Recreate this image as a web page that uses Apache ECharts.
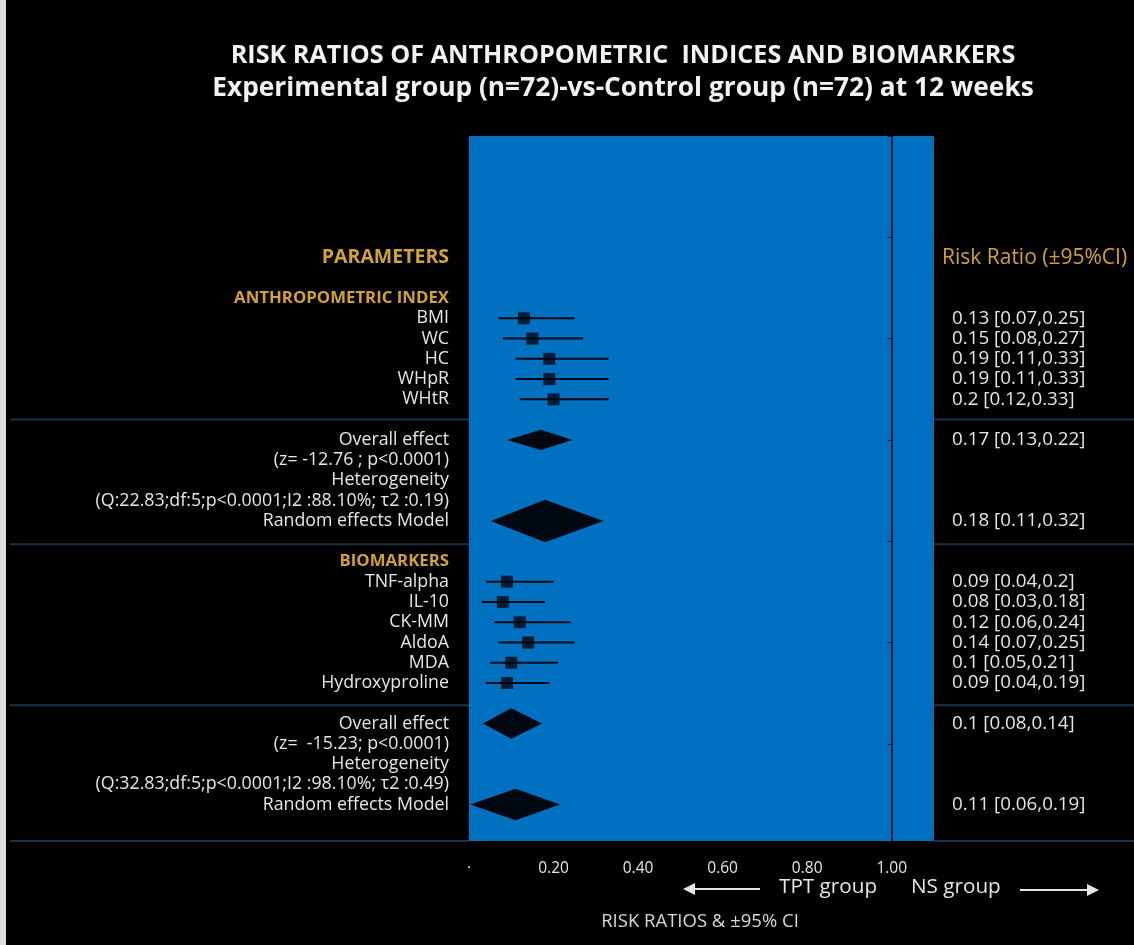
<!DOCTYPE html>
<html><head><meta charset="utf-8">
<script src="https://cdn.jsdelivr.net/npm/echarts@6/dist/echarts.min.js"></script>
<style>html,body{margin:0;padding:0;background:#000;} #c{width:1134px;height:945px;}</style>
</head><body><div id="c"></div>
<script>
// ---------- data ----------
const titleLines = ['RISK RATIOS OF ANTHROPOMETRIC  INDICES AND BIOMARKERS',
                    'Experimental group (n=72)-vs-Control group (n=72) at 12 weeks'];
const studyNames = ['BMI','WC','HC','WHpR','WHtR','TNF-alpha','IL-10','CK-MM','AldoA','MDA','Hydroxyproline'];
const studyRows  = [9,10,11,12,13,22,23,24,25,26,27];
const studyRR    = [0.13,0.15,0.19,0.19,0.2,0.09,0.08,0.12,0.14,0.1,0.09];
const studyLow   = [0.07,0.08,0.11,0.11,0.12,0.04,0.03,0.06,0.07,0.05,0.04];
const studyHigh  = [0.25,0.27,0.33,0.33,0.33,0.2,0.18,0.24,0.25,0.21,0.19];

const pooledNames = ['Overall effect','Random effects Model','Overall effect','Random effects Model'];
const pooledRows  = [15,19,29,33];
const pooledRR    = [0.17,0.18,0.1,0.11];
const pooledLow   = [0.13,0.11,0.08,0.06];
const pooledHigh  = [0.22,0.32,0.14,0.19];
// diamond extent as drawn in the figure
const diamondLeft  = [0.09,0.052,0.033,0.003];
const diamondRight = [0.245,0.318,0.173,0.215];
const diamondRowHeight = [1.0,2.1,1.5,1.55];

const statTexts = ['(z= -12.76 ; p<0.0001)','Heterogeneity','(Q:22.83;df:5;p<0.0001;I2 :88.10%; τ2 :0.19)',
                   '(z=  -15.23; p<0.0001)','Heterogeneity','(Q:32.83;df:5;p<0.0001;I2 :98.10%; τ2 :0.49)'];
const statRows  = [16,17,18,30,31,32];
const groupHeaders = ['ANTHROPOMETRIC INDEX','BIOMARKERS'];
const groupRows = [8,21];
const leftHeader = 'PARAMETERS', rightHeader = 'Risk Ratio (±95%CI)', headerRow = 6;
const separatorRows = [14,20.15,28.1,34.8];
const xMin = 0, xMax = 1.1, xStep = 0.2, rowMax = 34.8, nullValue = 1.0;

// ---------- labels per row ----------
const leftMap = {}, rightMap = {};
leftMap[headerRow] = '{g|' + leftHeader + '}';
rightMap[headerRow] = '{h|' + rightHeader + '}';
groupRows.forEach((r,i)=> leftMap[r] = '{s|' + groupHeaders[i] + '}');
studyRows.forEach((r,i)=>{ leftMap[r] = '{w|' + studyNames[i] + '}';
  rightMap[r] = '{v|' + studyRR[i] + ' [' + studyLow[i] + ',' + studyHigh[i] + ']}'; });
pooledRows.forEach((r,i)=>{ leftMap[r] = '{w|' + pooledNames[i] + '}';
  rightMap[r] = '{v|' + pooledRR[i] + ' [' + pooledLow[i] + ',' + pooledHigh[i] + ']}'; });
statRows.forEach((r,i)=> leftMap[r] = '{w|' + statTexts[i] + '}');

const FONT = '"Open Sans"';
const WHITE = '#e6e6e6', GOLD = '#d2a22e', INK = '#020812', NAVY = '#08173f', SEP = '#1c3048';

const chart = echarts.init(document.getElementById('c'));
const gridLeft = 469, gridRight = 200;
const gridWidth = 1134 - gridLeft - gridRight;

const yBase = { type:'value', min:0, max:rowMax, inverse:true, interval:1,
  axisLine:{show:false}, axisTick:{show:false}, splitLine:{show:false} };
const rich = {
  g:{color:GOLD, fontSize:19.5, fontWeight:'bold', fontFamily:FONT},
  h:{color:GOLD, fontSize:21, fontFamily:FONT},
  s:{color:GOLD, fontSize:16.8, fontWeight:'bold', fontFamily:FONT},
  w:{color:WHITE, fontSize:17.8, fontFamily:FONT},
  v:{color:WHITE, fontSize:18.8, fontFamily:FONT, padding:[0,0,0,10]}
};
const rowLabel = map => v => {
  const r = Math.round(v);
  return (Math.abs(v - r) < 1e-6 && map[r]) ? map[r] : '';
};

chart.setOption({
  backgroundColor:'#000',
  animation:false,
  title:{
    text: '{a|' + titleLines[0] + '}\n{b|' + titleLines[1] + '}', left:618, top:34, textAlign:'center',
    textStyle:{ lineHeight:33, rich:{
      a:{color:'#f2f2f2', fontSize:25.2, fontWeight:'bold', fontFamily:FONT, lineHeight:33},
      b:{color:'#f2f2f2', fontSize:26.3, fontWeight:'bold', fontFamily:FONT, lineHeight:33} } }
  },
  grid:{left:gridLeft, right:gridRight, top:136, bottom:104, show:true, backgroundColor:'#0070c0', borderWidth:0},
  xAxis:{ type:'value', min:xMin, max:xMax, interval:xStep,
    axisLine:{show:false}, axisTick:{show:false}, splitLine:{show:false},
    axisLabel:{ margin:20, color:WHITE, fontSize:15.5, fontFamily:FONT,
      formatter: v => (Math.abs(v) < 1e-9 ? '·' : (v > nullValue + 0.05 ? '' : v.toFixed(2))) } },
  yAxis:[
    Object.assign({}, yBase, { position:'left', axisLabel:{ margin:20, align:'right', formatter: rowLabel(leftMap), rich } }),
    Object.assign({}, yBase, { position:'right', axisLabel:{ margin:8, align:'left', formatter: rowLabel(rightMap), rich } }),
    { type:'value', min:0, max:rowMax, inverse:true, interval:5, position:'left',
      offset: -gridWidth * (nullValue - xMin) / (xMax - xMin),
      axisLine:{show:false}, splitLine:{show:false}, axisLabel:{show:false},
      axisTick:{show:true, length:4, lineStyle:{color:NAVY, width:1}} }
  ],
  graphic:[
    {type:'rect', shape:{x:0,y:0,width:6,height:945}, style:{fill:'#dcdcdc'}, z:100},
    {type:'line', shape:{x1:694,y1:889,x2:760,y2:889}, style:{stroke:WHITE, lineWidth:2}},
    {type:'polygon', shape:{points:[[683,889],[695,883],[695,895]]}, style:{fill:WHITE}},
    {type:'text', x:779, y:887, style:{text:'TPT group', fill:WHITE, font:'20.7px "Open Sans"', verticalAlign:'middle'}},
    {type:'text', x:911, y:887, style:{text:'NS group', fill:WHITE, font:'20.7px "Open Sans"', verticalAlign:'middle'}},
    {type:'line', shape:{x1:1020,y1:890,x2:1087,y2:890}, style:{stroke:WHITE, lineWidth:2}},
    {type:'polygon', shape:{points:[[1099,890],[1087,884],[1087,896]]}, style:{fill:WHITE}},
    {type:'text', x:700, y:922, style:{text:'RISK RATIOS & ±95% CI', fill:'#d8d8d8', font:'18.5px "Open Sans"', align:'center', verticalAlign:'middle'}}
  ],
  series:[
    { type:'custom', name:'separators', clip:false, silent:true, yAxisIndex:0,
      data: separatorRows.map(r => [r]), encode:{y:0},
      renderItem:(params, api) => {
        const r = api.value(0);
        const pL = api.coord([xMin, r]), pR = api.coord([xMax, r]);
        return {type:'group', children:[
          {type:'line', shape:{x1:10, y1:pL[1], x2:pL[0], y2:pL[1]}, style:{stroke:SEP, lineWidth:2}},
          {type:'line', shape:{x1:pR[0], y1:pR[1], x2:1134, y2:pR[1]}, style:{stroke:SEP, lineWidth:2}}
        ]};
      }
    },
    { type:'custom', name:'CI', yAxisIndex:0, clip:false,
      data: studyRows.map((r,i) => [studyLow[i], studyHigh[i], r]), encode:{x:[0,1], y:2},
      renderItem:(params, api) => {
        const a = api.coord([api.value(0), api.value(2)]), b = api.coord([api.value(1), api.value(2)]);
        return {type:'line', shape:{x1:a[0], y1:a[1], x2:b[0], y2:b[1]}, style:{stroke:INK, lineWidth:2}};
      },
      markLine:{ silent:true, symbol:'none', label:{show:false},
        lineStyle:{color:NAVY, width:2, type:'solid'}, data:[{xAxis:nullValue}] }
    },
    { type:'scatter', name:'RR', yAxisIndex:0, symbol:'rect', symbolSize:12,
      itemStyle:{color:INK}, data: studyRows.map((r,i) => [studyRR[i], r]) },
    { type:'custom', name:'pooled', yAxisIndex:0, clip:false,
      data: pooledRows.map((r,i) => [diamondLeft[i], pooledRR[i], diamondRight[i], r, diamondRowHeight[i]]),
      encode:{x:[0,1,2], y:3},
      renderItem:(params, api) => {
        const l = api.value(0), c = api.value(1), rt = api.value(2), r = api.value(3), h = api.value(4)/2;
        return {type:'polygon', shape:{points:[api.coord([l,r]), api.coord([c,r-h]), api.coord([rt,r]), api.coord([c,r+h])]},
          style:{fill:INK}};
      }
    }
  ]
});
</script></body></html>
